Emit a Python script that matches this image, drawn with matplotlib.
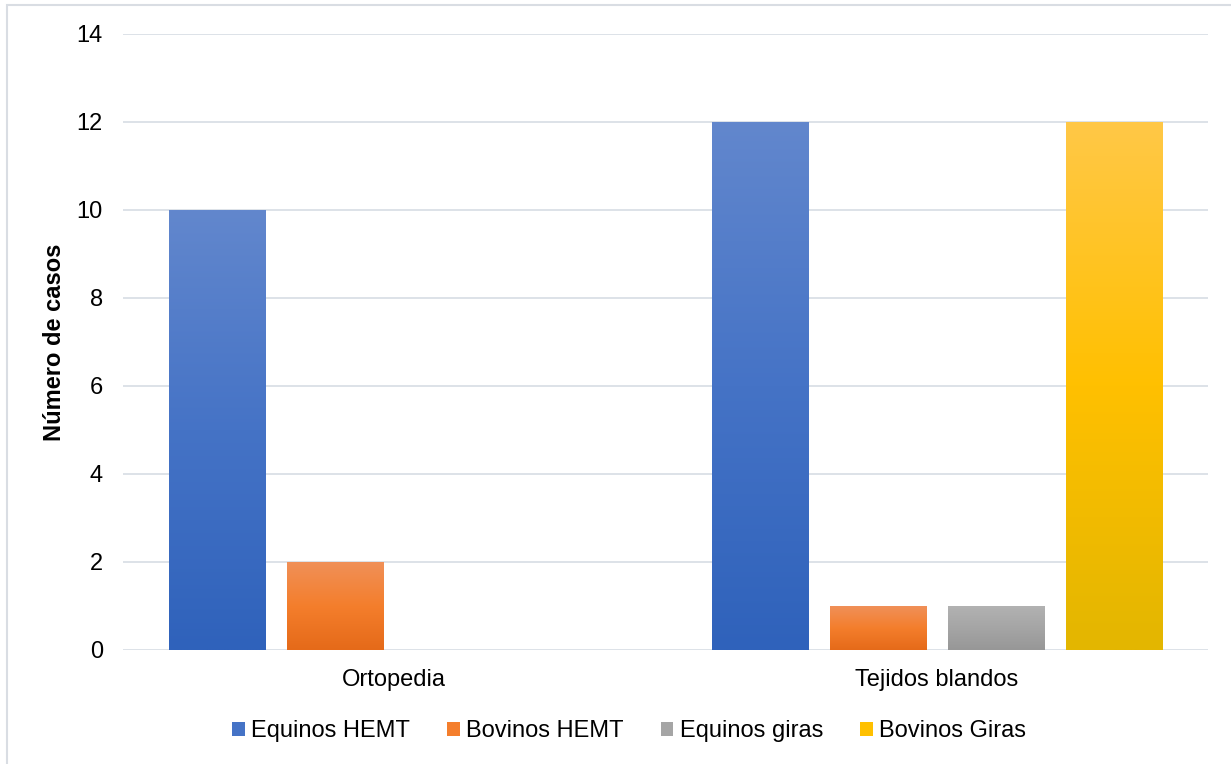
import matplotlib
matplotlib.use("Agg")
import matplotlib.pyplot as plt
import numpy as np
from matplotlib.colors import LinearSegmentedColormap
from matplotlib.patches import Patch, Rectangle

plt.rcParams['font.family'] = ['Liberation Sans', 'DejaVu Sans']

categories = ["Ortopedia", "Tejidos blandos"]
series_names = ["Equinos HEMT", "Bovinos HEMT", "Equinos giras", "Bovinos Giras"]
values = {
    "Equinos HEMT": [10, 12],
    "Bovinos HEMT": [2, 1],
    "Equinos giras": [0, 1],
    "Bovinos Giras": [0, 12],
}
y_ticks = [0, 2, 4, 6, 8, 10, 12, 14]

# gradient stops per series: top, middle, bottom
gradients = {
    "Equinos HEMT": ["#6287cd", "#4573c6", "#2f62bb"],
    "Bovinos HEMT": ["#f09058", "#f47e2c", "#e56a19"],
    "Equinos giras": ["#b2b2b2", "#a5a5a5", "#979797"],
    "Bovinos Giras": ["#ffc847", "#ffc000", "#e3b600"],
}

FS = 17
W, H, DPI = 1231, 764, 100
fig = plt.figure(figsize=(W / DPI, H / DPI), dpi=DPI)
ax_left, ax_right, ax_top, ax_bottom = 123, 1208, 34, 650
ax = fig.add_axes([ax_left / W, 1 - ax_bottom / H,
                   (ax_right - ax_left) / W, (ax_bottom - ax_top) / H])

# outer chart border
fig.patches.append(Rectangle((7 / W, -0.1), 1.2, 1 - 5 / H + 0.1,
                             transform=fig.transFigure, fill=False,
                             edgecolor="#d9dde3", linewidth=1.5, zorder=0))

x = np.arange(len(categories))
bar_w = 0.177
step = 0.2175
n = len(series_names)

for i, name in enumerate(series_names):
    offs = (i - (n - 1) / 2) * step
    cmap = LinearSegmentedColormap.from_list(name, gradients[name][::-1])
    bars = ax.bar(x + offs, values[name], width=bar_w, color="none",
                  edgecolor="none", zorder=2)
    grad = np.linspace(0, 1, 256).reshape(-1, 1)
    for b, v in zip(bars, values[name]):
        if v <= 0:
            continue
        x0 = b.get_x()
        ax.imshow(grad, cmap=cmap, origin="lower", aspect="auto",
                  extent=(x0, x0 + b.get_width(), 0, v), zorder=2,
                  interpolation="bilinear")

ax.set_xlim(-0.5, len(categories) - 0.5)
ax.set_ylim(0, 14)
ax.set_yticks(y_ticks)
ax.set_xticks(x)
ax.set_xticklabels(categories)
ax.tick_params(axis="both", length=0, labelsize=FS, colors="#000000")
ax.tick_params(axis="y", pad=14.5)
ax.tick_params(axis="x", pad=14)
ax.grid(axis="y", color="#dde2e8", linewidth=1.4, zorder=0)
ax.set_axisbelow(True)
for s in ax.spines.values():
    s.set_visible(False)

ax.set_ylabel("Número de casos", fontsize=FS, fontweight="bold")
ax.yaxis.set_label_coords(-(ax_left - 66) / (ax_right - ax_left), 0.5)

handles = [Patch(facecolor=gradients[nm][1], edgecolor="none", label=nm)
           for nm in series_names]
fig.legend(handles=handles, loc="center", bbox_to_anchor=(629 / W, 1 - 731 / H),
           ncol=4, frameon=False, fontsize=FS, handlelength=0.54,
           handleheight=0.54, handletextpad=0.27, columnspacing=1.57,
           borderpad=0, borderaxespad=0)

fig.savefig("out.png", dpi=DPI, facecolor="white")
